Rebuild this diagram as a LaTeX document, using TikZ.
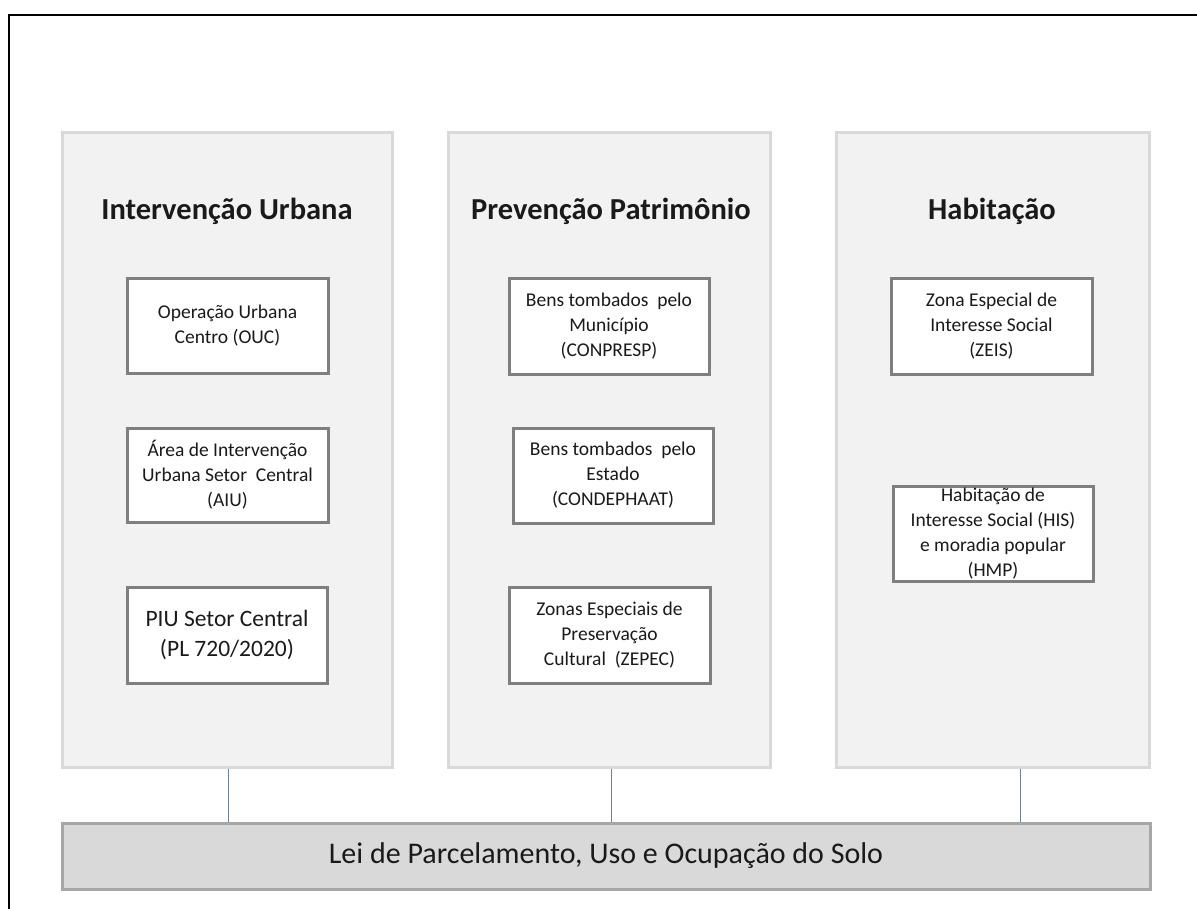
\documentclass[tikz,border=0pt]{standalone}
\usepackage{fontspec}
\setmainfont{Carlito}
\definecolor{panelfill}{HTML}{F2F2F2}
\definecolor{panelborder}{HTML}{D9D9D9}
\definecolor{boxborder}{HTML}{7F7F7F}
\definecolor{barfill}{HTML}{D9D9D9}
\definecolor{barborder}{HTML}{A6A6A6}
\definecolor{linkcol}{HTML}{6F7F90}
\definecolor{txt}{HTML}{1A1A1A}
\begin{document}
\begin{tikzpicture}[x=1pt,y=-1pt,
  panel/.style={draw=panelborder, fill=panelfill, line width=3pt, inner sep=0pt,
    minimum height=634pt},
  ibox/.style={draw=boxborder, fill=white, line width=3pt, inner sep=0pt,
    align=center, text=txt, font=\fontsize{19.5}{25}\selectfont},
  bigbox/.style={ibox, font=\fontsize{23.5}{30}\selectfont},
  ptitle/.style={anchor=base, text=txt, font=\fontsize{30.5}{36}\selectfont\bfseries},
  bar/.style={draw=barborder, fill=barfill, line width=3pt, inner sep=0pt,
    text=txt, font=\fontsize{30}{36}\selectfont},
  link/.style={draw=linkcol, line width=1pt}]
\useasboundingbox (0,0) rectangle (1197,909);
\fill[white] (0,0) rectangle (1197,909);
% outer frame (partly visible)
\draw[black, line width=2pt] (9,920) -- (9,15) -- (1210,15);

% panels
\node[panel, minimum width=330pt] (p1) at (227,450) {};
\node[panel, minimum width=322pt] (p2) at (609,450) {};
\node[panel, minimum width=313pt] (p3) at (992.5,450) {};

% titles
\node[ptitle] (t1) at (227,220) {Intervenção Urbana};
\node[ptitle] (t2) at (611,220) {Prevenção Patrimônio};
\node[ptitle] (t3) at (992,220) {Habitação};

% left boxes
\node[ibox, minimum width=201pt, minimum height=94pt] (b11) at (227.5,326) {Operação Urbana\\Centro (OUC)};
\node[ibox, minimum width=201pt, minimum height=94pt] (b12) at (227.5,475) {Área de Intervenção\\Urbana Setor\ \ Central\\(AIU)};
\node[bigbox, minimum width=200pt, minimum height=96pt] (b13) at (227,635) {PIU Setor Central\\(PL 720/2020)};

% middle boxes
\node[ibox, minimum width=200pt, minimum height=95pt] (b21) at (609,326.5) {Bens tombados\ \ pelo\\Município\\(CONPRESP)};
\node[ibox, minimum width=200pt, minimum height=95pt] (b22) at (613,475.5) {Bens tombados\ \ pelo\\Estado\\(CONDEPHAAT)};
\node[ibox, minimum width=201pt, minimum height=96pt] (b23) at (609.5,635) {Zonas Especiais de\\Preservação\\Cultural\ \ (ZEPEC)};

% right boxes
\node[ibox, minimum width=201pt, minimum height=95pt] (b31) at (991.5,326.5) {Zona Especial de\\Interesse Social\\(ZEIS)};
\node[ibox, minimum width=200pt, minimum height=95pt] (b32) at (993,533.5) {Habitação de\\Interesse Social (HIS)\\e moradia popular\\(HMP)};

% bottom bar
\node[bar, minimum width=1088pt, minimum height=66pt] (bar) at (606,856) {Lei de Parcelamento, Uso e Ocupação do Solo};

% connectors
\draw[link] ([xshift=1pt]p1.south) -- ([xshift=1pt]p1.south |- bar.north);
\draw[link] ([xshift=2pt]p2.south) -- ([xshift=2pt]p2.south |- bar.north);
\draw[link] ([xshift=27.5pt]p3.south) -- ([xshift=27.5pt]p3.south |- bar.north);
\end{tikzpicture}
\end{document}
